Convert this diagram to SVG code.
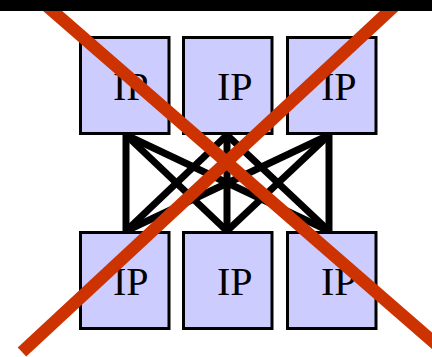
<svg xmlns="http://www.w3.org/2000/svg" width="432" height="357" viewBox="0 0 432 357">
<style>
.box{fill:#ccccff;stroke:#000;stroke-width:3}
.lbl{font-family:"Liberation Serif","Times New Roman",serif;font-size:40px;fill:#000}
.conn line{stroke:#000;stroke-width:7;stroke-linecap:butt}
.cross{stroke:#cc3300;stroke-width:12.5;stroke-linecap:butt}
</style>
<rect x="0" y="0" width="432" height="357" fill="#fff"/>
<g id="connectors" class="conn">
<line x1="126" y1="134" x2="126" y2="232"/>
<line x1="227" y1="134" x2="227" y2="232"/>
<line x1="329" y1="134" x2="329" y2="232"/>
<line x1="126" y1="135" x2="227" y2="231"/>
<line x1="126" y1="135" x2="329" y2="231"/>
<line x1="227" y1="135" x2="126" y2="231"/>
<line x1="227" y1="135" x2="329" y2="231"/>
<line x1="329" y1="135" x2="126" y2="231"/>
<line x1="329" y1="135" x2="227" y2="231"/>
</g>
<g id="ip-top-1"><rect class="box" x="80.5" y="37.5" width="88.5" height="96"/><text class="lbl" x="113" y="100">IP</text></g>
<g id="ip-top-2"><rect class="box" x="183.5" y="37.5" width="88.5" height="96"/><text class="lbl" x="217" y="100">IP</text></g>
<g id="ip-top-3"><rect class="box" x="287.5" y="37.5" width="88.5" height="96"/><text class="lbl" x="321" y="100">IP</text></g>
<g id="ip-bot-1"><rect class="box" x="80.5" y="232.5" width="88.5" height="96"/><text class="lbl" x="113" y="295">IP</text></g>
<g id="ip-bot-2"><rect class="box" x="183.5" y="232.5" width="88.5" height="96"/><text class="lbl" x="217" y="295">IP</text></g>
<g id="ip-bot-3"><rect class="box" x="287.5" y="232.5" width="88.5" height="96"/><text class="lbl" x="321" y="295">IP</text></g>
<g id="cross">
<line class="cross" x1="40" y1="0" x2="445" y2="352"/>
<line class="cross" x1="401" y1="0" x2="22" y2="352"/>
</g>
<rect id="topbar" x="0" y="0" width="432" height="11" fill="#000"/>
</svg>
